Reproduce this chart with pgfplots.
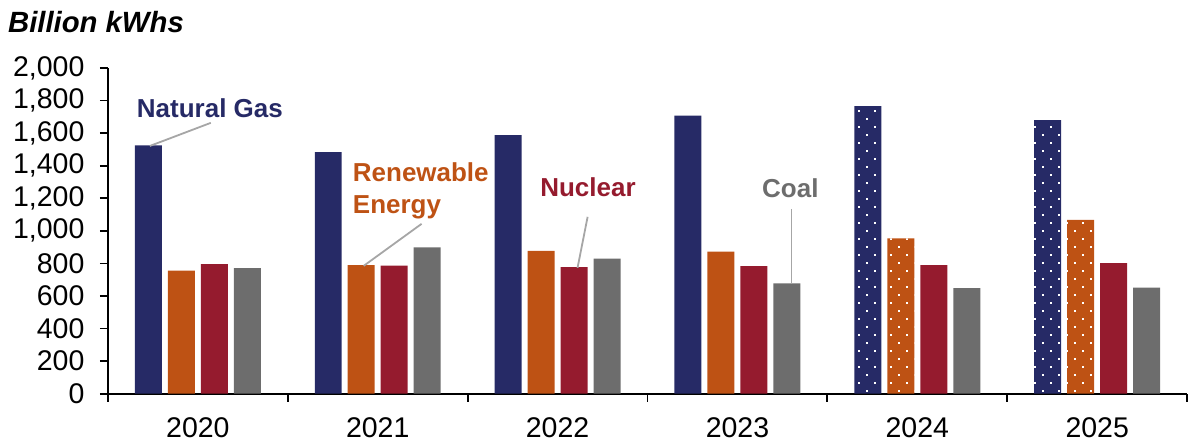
\documentclass[border=0pt]{standalone}
\usepackage{fontspec}
\setmainfont{Liberation Sans}
\usepackage{pgfplots}
\pgfplotsset{compat=1.18}
\usetikzlibrary{patterns.meta}
\definecolor{ng}{RGB}{38,42,102}
\definecolor{ren}{RGB}{190,82,20}
\definecolor{nuc}{RGB}{149,27,46}
\definecolor{coal}{RGB}{109,109,109}
\definecolor{lead}{RGB}{166,166,166}
\tikzdeclarepattern{
  name=wdots,
  type=uncolored,
  bounding box={(0,0) and (16bp,16bp)},
  tile size={(16bp,16bp)},
  code={
    \fill (3.2bp,3.2bp) rectangle (4.9bp,4.9bp);
    \fill (11.2bp,11.2bp) rectangle (12.9bp,12.9bp);
  }
}
\newcommand{\bigfont}{\fontsize{26bp}{32bp}\selectfont}
\newcommand{\tickfont}{\fontsize{28.5bp}{34bp}\selectfont}
\begin{document}
\begin{tikzpicture}
\begin{axis}[
  scale only axis, width=1080bp, height=326bp,
  xmin=-0.5, xmax=5.5, ymin=0, ymax=2000,
  clip=false,
  axis x line*=bottom, axis y line*=left,
  axis line style={line width=1.8bp, black},
  ytick={0,200,...,2000},
  xtick={0,...,5}, xticklabels={2020,2021,2022,2023,2024,2025},
  minor xtick={-0.5,0.5,...,5.5},
  tick align=outside,
  major tick length=8bp, minor tick length=8bp,
  major x tick style={draw=none},
  minor x tick style={line width=1.8bp, black},
  ytick style={line width=1.8bp, black},
  ticklabel style={font=\tickfont, black},
  yticklabel style={xshift=-12bp},
  xticklabel style={yshift=-12bp},
  /pgf/number format/.cd, 1000 sep={,}, assume math mode=true,
]
\addplot[ybar, bar width=27bp, bar shift=-49.5bp, fill=ng, draw=none]
  coordinates {(0,1525) (1,1483) (2,1587) (3,1707) (4,1765) (5,1679)};
\addplot[ybar, bar width=27bp, bar shift=-16.5bp, fill=ren, draw=none]
  coordinates {(0,756) (1,789) (2,877) (3,873) (4,953) (5,1067)};
\addplot[ybar, bar width=27bp, bar shift=16.5bp, fill=nuc, draw=none]
  coordinates {(0,796) (1,786) (2,777) (3,783) (4,789) (5,802)};
\addplot[ybar, bar width=27bp, bar shift=49.5bp, fill=coal, draw=none]
  coordinates {(0,771) (1,898) (2,830) (3,677) (4,648) (5,652)};
% dotted overlays for 2024-2025
\addplot[ybar, forget plot, bar width=27bp, bar shift=-49.5bp, draw=none, pattern=wdots, pattern color=white]
  coordinates {(4,1765) (5,1679)};
\addplot[ybar, forget plot, bar width=27bp, bar shift=-16.5bp, draw=none, pattern=wdots, pattern color=white]
  coordinates {(4,953) (5,1067)};
% annotations
\draw[lead, line width=1.8bp] (axis cs:0.072,1663) -- (axis cs:-0.267,1521);
\node[font=\bigfont\bfseries, text=ng, inner sep=0pt] at (axis cs:0.067,1755) {Natural Gas};
\draw[lead, line width=1.8bp] (axis cs:1.244,1043) -- (axis cs:0.922,785);
\node[font=\bigfont\bfseries, text=ren, anchor=west, align=left, inner sep=0pt] at (axis cs:0.861,1245) {Renewable\\Energy};
\draw[lead, line width=1.8bp] (axis cs:2.167,1086) -- (axis cs:2.111,773);
\node[font=\bigfont\bfseries, text=nuc, inner sep=0pt] at (axis cs:2.169,1270) {Nuclear};
\draw[lead, line width=1.8bp] (axis cs:3.3,1135) -- (axis cs:3.3,675);
\node[font=\bigfont\bfseries, text=coal, inner sep=0pt] at (axis cs:3.294,1264) {Coal};
\node[font=\fontsize{29.3bp}{34bp}\selectfont\bfseries\itshape, anchor=west, inner sep=0pt] at (axis cs:-1.056,2282) {Billion kWhs};
\end{axis}
\useasboundingbox ([xshift=-108bp,yshift=-49bp]current axis.south west) rectangle ([yshift=68bp]current axis.north east);
\end{tikzpicture}
\end{document}
